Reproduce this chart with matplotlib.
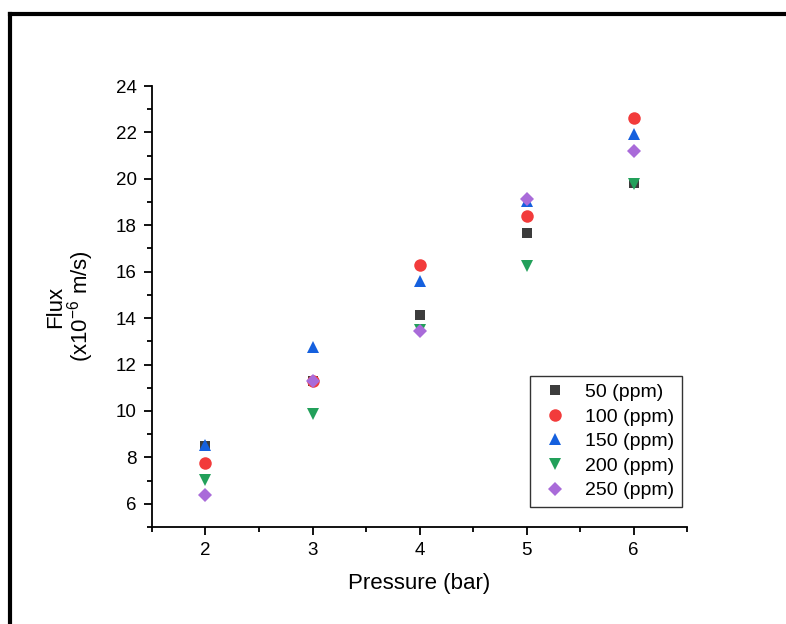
import matplotlib
matplotlib.use('Agg')
from matplotlib import pyplot as plt
from matplotlib.lines import Line2D
from matplotlib.ticker import MultipleLocator

plt.rcParams['font.family'] = ['Liberation Sans', 'DejaVu Sans']
plt.rcParams['mathtext.fontset'] = 'custom'
plt.rcParams['mathtext.rm'] = 'Liberation Sans'

# pressure (bar) and flux (x10^-6 m/s) per concentration
pressure = [2, 3, 4, 5, 6]
flux_50 = [8.50, 11.30, 14.13, 17.68, 19.80]
flux_100 = [7.77, 11.30, 16.29, 18.39, 22.63]
flux_150 = [8.55, 12.75, 15.58, 19.05, 21.92]
flux_200 = [7.04, 9.88, 13.50, 16.23, 19.76]
flux_250 = [6.36, 11.31, 13.43, 19.12, 21.21]

labels = ['50 (ppm)', '100 (ppm)', '150 (ppm)', '200 (ppm)', '250 (ppm)']
series = [flux_50, flux_100, flux_150, flux_200, flux_250]
markers = ['s', 'o', '^', 'v', 'D']
colors = ['#3c3c3c', '#f23b3b', '#1560de', '#22a05a', '#a96bd9']
sizes = [7.5, 9, 9, 9, 7.5]

fig = plt.figure(figsize=(7.86, 6.24), dpi=100)
ax = fig.add_axes([152 / 786, 1 - 527 / 624, 535 / 786, 441 / 624])

for ys, m, c, s, lab in zip(series, markers, colors, sizes, labels):
  ax.plot(pressure, ys, ls='none', marker=m, color=c, ms=s, mew=0, label=lab)

ax.set_xlim(1.5, 6.5)
ax.set_ylim(5, 24)
ax.xaxis.set_major_locator(MultipleLocator(1))
ax.xaxis.set_minor_locator(MultipleLocator(0.5))
ax.yaxis.set_minor_locator(MultipleLocator(1))
ax.set_yticks(range(6, 25, 2))
ax.tick_params(which='major', direction='out', length=6, width=1.3, labelsize=13.5, pad=5)
ax.tick_params(which='minor', direction='out', length=3.5, width=1.3)
ax.spines['top'].set_visible(False)
ax.spines['right'].set_visible(False)
ax.spines['left'].set_linewidth(1.3)
ax.spines['bottom'].set_linewidth(1.3)
ax.set_facecolor('none')

ax.set_xlabel('Pressure (bar)', fontsize=16, labelpad=10)
ax.set_ylabel('Flux\n(x10$^{-6}$ m/s)', fontsize=16, labelpad=14, linespacing=0.95)

leg = ax.legend(loc='lower right', bbox_to_anchor=(0.99, 0.045), fontsize=14,
                frameon=True, fancybox=False, edgecolor='#333333', framealpha=1,
                handletextpad=0.66, handlelength=1.77, borderpad=0.4, labelspacing=0.36,
                borderaxespad=0)
leg.get_frame().set_linewidth(1.0)

# black frame around the picture (runs off the right and bottom edges)
fig.add_artist(Line2D([10 / 786, 1.0], [1 - 14 / 624, 1 - 14 / 624], color='black', lw=3,
                      transform=fig.transFigure))
fig.add_artist(Line2D([10 / 786, 10 / 786], [0.0, 1 - 14 / 624], color='black', lw=3,
                      transform=fig.transFigure))

fig.savefig('out.png', dpi=100)
